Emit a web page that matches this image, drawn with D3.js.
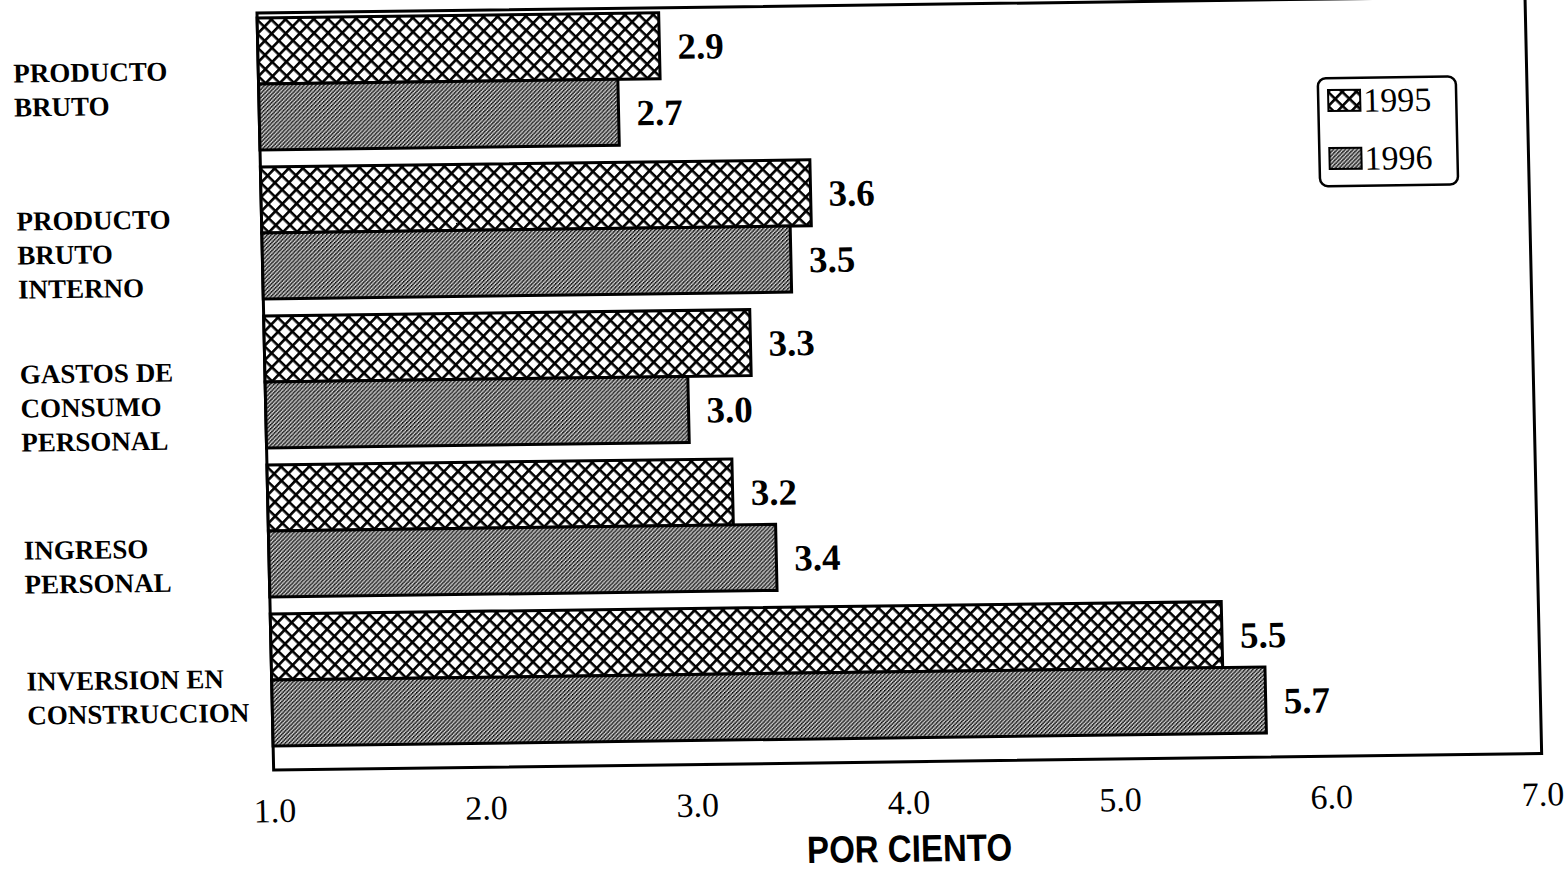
<!DOCTYPE html>
<html>
<head>
<meta charset="utf-8">
<script src="https://cdn.jsdelivr.net/npm/d3@7"></script>
<style>
    html, body { margin: 0; padding: 0; background: #fff; }
    svg { display: block; }
</style>
</head>
<body>
<script>
// 数据
const categories = [
    'PRODUCTO\nBRUTO',
    'PRODUCTO\nBRUTO\nINTERNO',
    'GASTOS DE\nCONSUMO\nPERSONAL',
    'INGRESO\nPERSONAL',
    'INVERSION EN\nCONSTRUCCION'
];
const years = ['1995', '1996'];
const values1995 = [2.9, 3.6, 3.3, 3.2, 5.5];
const values1996 = [2.7, 3.5, 3.0, 3.4, 5.7];
const xTicks = [1, 2, 3, 4, 5, 6, 7];
const xTitle = 'POR CIENTO';

// 画布
const width = 1567;
const height = 881;
// 扫描件有轻微倾斜
const origin = {x: 257, y: 13};
const skew = {x: 0.022, y: -0.013};
const plotW = 1268;
const plotH = 757;
// 分类标签的微调
const labelNudge = [3, 19, 23, 33, 15];

const serif = '"Liberation Serif", "Times New Roman", serif';

const svg = d3.select('body')
    .append('svg')
    .attr('width', width)
    .attr('height', height);

// 图案
const defs = svg.append('defs');

const cross = defs.append('pattern')
    .attr('id', 'cross')
    .attr('patternUnits', 'userSpaceOnUse')
    .attr('width', 10)
    .attr('height', 10)
    .attr('patternTransform', 'rotate(45)');
cross.append('rect').attr('width', 10).attr('height', 10).attr('fill', '#fff');
cross.append('rect').attr('width', 10).attr('height', 2.6).attr('fill', '#000');
cross.append('rect').attr('width', 2.6).attr('height', 10).attr('fill', '#000');

const dots = defs.append('pattern')
    .attr('id', 'dots')
    .attr('patternUnits', 'userSpaceOnUse')
    .attr('width', 4)
    .attr('height', 4);
dots.append('rect').attr('width', 4).attr('height', 4).attr('fill', '#d6d6d6');
for (let px = 0; px < 4; px++) {
    for (let py = 0; py < 4; py++) {
        if ((px + py) % 4 === 0 || (px + py) % 4 === 1) {
            dots.append('rect')
                .attr('x', px).attr('y', py)
                .attr('width', 1).attr('height', 1)
                .attr('fill', '#000');
        }
    }
}

const fills = {1995: 'url(#cross)', 1996: 'url(#dots)'};

const g = svg.append('g')
    .attr('transform', `translate(${origin.x},${origin.y}) matrix(1,${skew.y},${skew.x},1,0,0)`);

// 比例尺
const x = d3.scaleLinear()
    .domain([1, 7])
    .range([0, plotW]);

const y = d3.scaleBand()
    .domain(categories)
    .range([0, plotH])
    .paddingInner(0.114)
    .paddingOuter(0.097)
    .align(0.17);

const ySub = d3.scaleBand()
    .domain(years)
    .range([0, y.bandwidth()]);

const rows = categories.map((c, i) => ({
    cat: c,
    i: i,
    bars: [
        {year: '1995', v: values1995[i]},
        {year: '1996', v: values1996[i]}
    ]
}));

// 框
g.append('path')
    .attr('d', `M0,0 H${plotW} V${plotH} H0 Z`)
    .attr('fill', 'none')
    .attr('stroke', '#000')
    .attr('stroke-width', 3);

// 矩形
const groups = g.selectAll('g.row')
    .data(rows)
    .enter()
    .append('g')
    .attr('class', 'row')
    .attr('transform', d => `translate(0,${y(d.cat)})`);

groups.selectAll('rect')
    .data(d => d.bars)
    .enter()
    .append('rect')
    .attr('x', x(1))
    .attr('y', d => ySub(d.year))
    .attr('width', d => x(d.v) - x(1))
    .attr('height', ySub.bandwidth())
    .attr('fill', d => fills[d.year])
    .attr('stroke', '#000')
    .attr('stroke-width', 3);

// 数值
groups.selectAll('text.val')
    .data(d => d.bars)
    .enter()
    .append('text')
    .attr('class', 'val')
    .attr('x', d => x(d.v) + 18)
    .attr('y', d => ySub(d.year) + ySub.bandwidth() / 2)
    .attr('dy', '0.36em')
    .attr('font-family', serif)
    .attr('font-weight', 'bold')
    .attr('font-size', 37)
    .text(d => d3.format('.1f')(d.v));

// 分类标签
groups.each(function (d) {
    const lines = d.cat.split('\n');
    const lh = 34;
    const cy = y.bandwidth() / 2 + labelNudge[d.i];
    const t = d3.select(this).append('text')
        .attr('font-family', serif)
        .attr('font-weight', 'bold')
        .attr('font-size', 27)
        .attr('y', cy - (lines.length - 1) * lh / 2);
    lines.forEach((s, k) => {
        t.append('tspan')
            .attr('x', -245)
            .attr('dy', k === 0 ? '0.35em' : lh)
            .text(s);
    });
});

// 坐标轴
const axis = g.append('g')
    .attr('transform', `translate(0,${plotH + 25})`)
    .call(d3.axisBottom(x).tickValues(xTicks).tickSize(0).tickFormat(d3.format('.1f')));
axis.select('.domain').remove();
axis.selectAll('text')
    .attr('font-family', serif)
    .attr('font-size', 34)
    .attr('fill', '#000');

g.append('text')
    .attr('x', plotW / 2)
    .attr('y', plotH + 100)
    .attr('text-anchor', 'middle')
    .attr('font-family', '"Liberation Sans", Arial, sans-serif')
    .attr('font-weight', 'bold')
    .attr('font-size', 38)
    .attr('textLength', 205)
    .attr('lengthAdjust', 'spacingAndGlyphs')
    .text(xTitle);

// 图例
const legend = g.append('g')
    .attr('transform', 'translate(1059,79)');
legend.append('rect')
    .attr('width', 138)
    .attr('height', 108)
    .attr('rx', 8)
    .attr('fill', '#fff')
    .attr('stroke', '#000')
    .attr('stroke-width', 2.5);

const items = legend.selectAll('g.item')
    .data(years)
    .enter()
    .append('g')
    .attr('class', 'item')
    .attr('transform', (d, i) => `translate(10,${12 + i * 58})`);
items.append('rect')
    .attr('width', 32)
    .attr('height', 21)
    .attr('fill', d => fills[d])
    .attr('stroke', '#000')
    .attr('stroke-width', 2);
items.append('text')
    .attr('x', 35)
    .attr('y', 22)
    .attr('font-family', serif)
    .attr('font-size', 34)
    .text(d => d);
</script>
</body>
</html>
